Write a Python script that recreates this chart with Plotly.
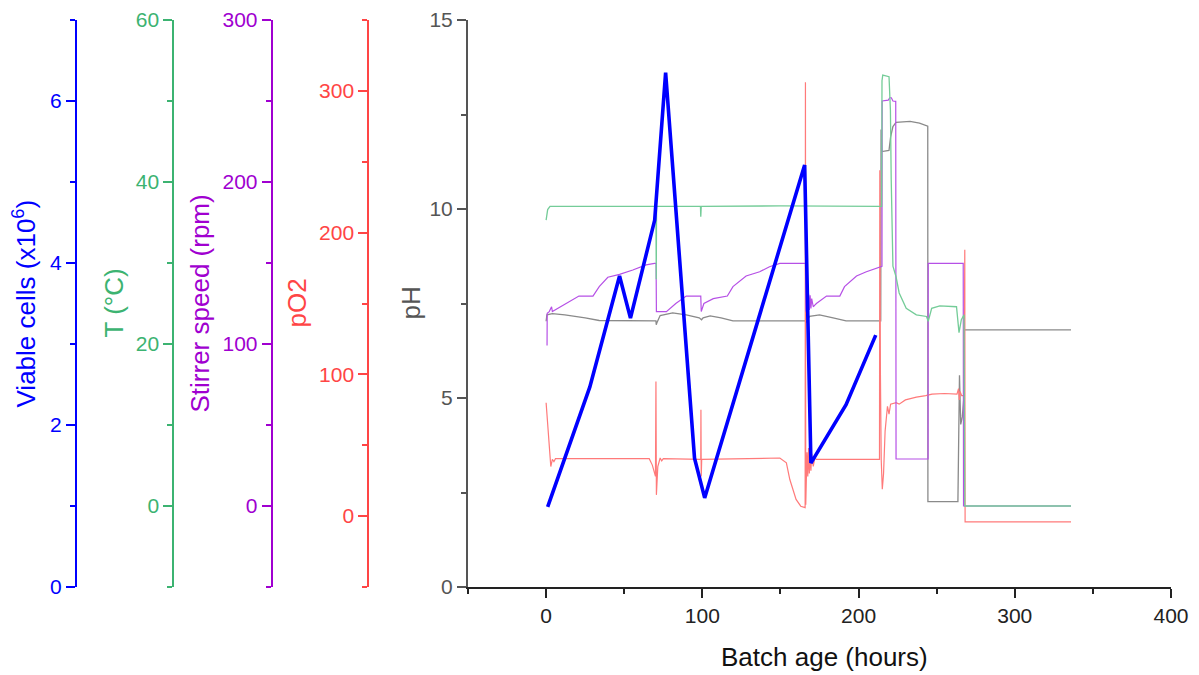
import plotly.graph_objects as go

# ---------------- data ----------------
cells_t = [1, 28, 47, 54, 69.5, 76.5, 95, 101.5, 165.5, 169.5, 192, 211]
cells_v = [0.99, 2.47, 3.84, 3.32, 4.53, 6.35, 1.59, 1.10, 5.21, 1.53, 2.25, 3.11]

temp_t = [0, 1, 2.5, 70.3, 70.5, 70.7, 98.8, 99, 99.3, 150, 213.6, 214.8, 215, 215.5, 219.5, 220,
          220.4, 220.9, 222, 224, 226, 230.5, 237, 243.5, 244.6, 246.8, 252, 262.7, 264.3, 265.8,
          267.5, 268, 336]
temp_v = [35.3, 36.6, 37.0, 37.0, 28.0, 37.0, 37.0, 35.7, 37.0, 37.05, 37.0, 37.0, 52.5, 53.2, 53.0, 51.0,
          48.9, 40.3, 29.6, 28.3, 26.3, 24.4, 23.6, 23.4, 22.8, 24.4, 24.7, 24.6, 21.4, 23.0,
          23.6, 0.0, 0.0]

stir_t = [0.6, 0.7, 2, 3.5, 4, 13, 21, 30, 34, 39.5, 47, 55.5, 64, 69.4, 70.4, 70.6, 77, 83, 89.7, 99,
          99.3, 101, 107, 116, 119.6, 128, 136.7, 143, 149.6, 166, 166.3, 167, 167.5, 168, 168.5, 169,
          169.5, 170, 171, 172, 173, 179.5, 188, 191, 198.7, 205, 213.6, 215, 215.1, 219, 220, 221,
          222, 223.8, 224, 244.5, 244.6, 267, 267.2, 336]
stir_v = [99, 119, 120, 123, 120, 125, 129.6, 129.6, 135.4, 141.2, 143, 145.7, 148.8, 149.8, 149.8, 120,
          120, 125, 129.6, 129.6, 120, 125, 128, 129.6, 135.4, 142, 144.6, 147.7, 149.8, 149.8, 120, 130,
          120, 131, 121, 130, 122, 128, 123, 124, 125, 129.6, 129.6, 135.4, 142, 144.6, 147.7, 148,
          250, 250.5, 252, 252, 250, 249.8, 29, 29, 149.8, 149.8, 0, 0]

po2_t = [0, 1.5, 3, 4, 5, 6, 66, 68, 70, 70.3, 70.6, 71.5, 73, 74, 75, 99, 99.1, 99.3, 99.6, 149.6,
         153.8, 156, 160, 163, 165.8, 166, 166.2, 167, 167.5, 168, 168.5, 169, 169.5, 170, 171, 172,
         173, 213.4, 213.6, 214, 214.5, 215.2, 216, 217, 218.5, 219.5, 220.5, 224, 226, 230, 237,
         243, 247, 255, 263, 264, 264.5, 265, 266, 267.5, 268, 268.2, 336]
po2_v = [80, 54, 35, 40, 38.5, 40.5, 40.5, 36, 28, 95, 15, 35, 41, 39, 40.5, 40, 75, 28, 40, 41,
         37.6, 25.8, 11.8, 7, 6, 306, 8, 45, 28, 48, 30, 46, 32, 44, 35, 41,
         40, 40, 244, 100, 40, 19, 30, 60, 77.5, 72, 79, 80, 79, 82, 84,
         85, 86, 86.5, 86, 90, 82, 88, 85, 85, 188, -4, -4]

ph_t = [0, 0.5, 4, 12, 25, 34, 70.3, 70.5, 71, 73, 81, 89.7, 98, 99.5, 100.5, 105, 112, 119.6, 166,
        166.5, 168.6, 175, 183.7, 192, 214.2, 214.4, 214.8, 219.5, 220.5, 222, 224, 233, 239, 244.3,
        244.4, 263.6, 263.8, 264.6, 265.4, 266.4, 267.4, 267.6, 336]
ph_v = [7.03, 7.2, 7.23, 7.2, 7.12, 7.05, 7.04, 6.94, 7.0, 7.18, 7.25, 7.2, 7.12, 7.07, 7.12, 7.17, 7.12,
        7.04, 7.04, 7.0, 7.16, 7.2, 7.12, 7.04, 7.04, 12.1, 11.52, 11.55, 11.9, 12.18, 12.29, 12.32,
        12.27, 12.19, 2.26, 2.26, 3.4, 5.6, 4.3, 4.5, 5.0, 6.8, 6.8]

# ---------------- style ----------------
FONT = "Arial, 'Liberation Sans', sans-serif"
W, H = 1199, 675
ML, MR, MT, MB = 0, 28, 20, 88
PW = W - ML - MR

C_BLUE = "#0000FF"
C_GREEN = "#3CB371"
C_PURPLE = "#A000D0"
C_RED = "#FF4545"
C_GRAY = "#555555"

fig = go.Figure()
fig.add_trace(go.Scatter(x=ph_t, y=ph_v, mode="lines", line=dict(color="#8A8A8A", width=1.3),
                         xaxis="x", yaxis="y", name="pH"))
fig.add_trace(go.Scatter(x=po2_t, y=po2_v, mode="lines", line=dict(color="#FF7A7A", width=1.2),
                         xaxis="x", yaxis="y2", name="pO2"))
fig.add_trace(go.Scatter(x=stir_t, y=stir_v, mode="lines", line=dict(color="#B650E6", width=1.2),
                         xaxis="x", yaxis="y3", name="Stirrer"))
fig.add_trace(go.Scatter(x=temp_t, y=temp_v, mode="lines", line=dict(color="#74CC98", width=1.3),
                         xaxis="x", yaxis="y4", name="T"))
fig.add_trace(go.Scatter(x=cells_t, y=cells_v, mode="lines", line=dict(color=C_BLUE, width=3.6),
                         xaxis="x", yaxis="y5", name="Viable cells"))


def yax(color, rng, dtick, mdtick, pos=None):
    d = dict(range=rng, dtick=dtick, tick0=0, showgrid=False, zeroline=False,
             showline=True, linecolor=color, linewidth=2,
             ticks="outside", ticklen=9, tickwidth=2, tickcolor=color,
             tickfont=dict(family=FONT, size=21, color=color),
             minor=dict(dtick=mdtick, tick0=0, ticks="outside", ticklen=5, tickwidth=2, tickcolor=color),
             domain=[0, 1], fixedrange=True)
    if pos is not None:
        d.update(anchor="free", position=pos, overlaying="y", side="left")
    return d


fig.update_layout(
    width=W, height=H, margin=dict(l=ML, r=MR, t=MT, b=MB),
    paper_bgcolor="white", plot_bgcolor="white", showlegend=False,
    xaxis=dict(domain=[468 / PW, 1], range=[-50, 400], dtick=100, tick0=0, showgrid=False, zeroline=False,
               showline=True, linecolor="#222222", linewidth=2, ticks="outside", ticklen=9, tickwidth=2,
               tickcolor="#222222", tickfont=dict(family=FONT, size=21, color="#222222"),
               minor=dict(dtick=50, tick0=0, ticks="outside", ticklen=5, tickwidth=2, tickcolor="#222222"),
               anchor="y"),
    yaxis=yax(C_GRAY, [0, 15], 5, 2.5),
    yaxis2=yax(C_RED, [-50, 350], 100, 50, 368.3 / PW),
    yaxis3=yax(C_PURPLE, [-50, 300], 100, 50, 271.7 / PW),
    yaxis4=yax(C_GREEN, [-10, 60], 20, 10, 173.3 / PW),
    yaxis5=yax(C_BLUE, [0, 7], 2, 1, 76 / PW),
)
fig.layout.yaxis.anchor = "x"

titles = [
    ("Viable cells (x10<sup>6</sup>)", 25, C_BLUE),
    ("T (°C)", 113, C_GREEN),
    ("Stirrer speed (rpm)", 199, C_PURPLE),
    ("pO2", 296, C_RED),
    ("pH", 410, C_GRAY),
]
for txt, px, col in titles:
    fig.add_annotation(text=txt, xref="paper", yref="paper", x=(px - ML) / PW, y=0.5,
                       xanchor="center", yanchor="middle", textangle=-90, showarrow=False,
                       font=dict(family=FONT, size=26, color=col))
fig.add_annotation(text="Batch age (hours)", xref="paper", yref="paper", x=(824 - ML) / PW,
                   y=-(657 - (H - MB)) / (H - MT - MB), xanchor="center", yanchor="middle",
                   showarrow=False, font=dict(family=FONT, size=26, color="#111111"))

fig.write_html("out.html")
